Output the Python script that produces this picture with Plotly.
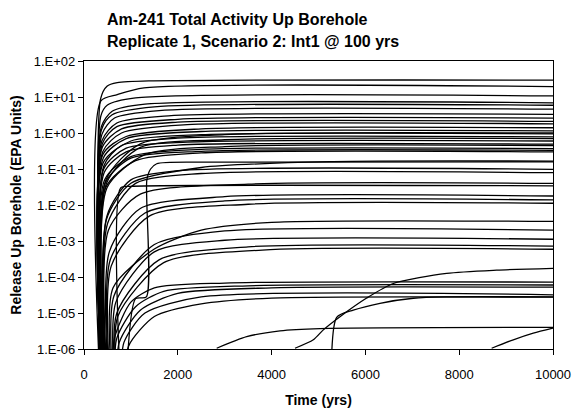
import plotly.graph_objects as go

# Release up borehole (EPA units) vs time (yrs), one list per realization
# upper curves: start ~350 yrs with an almost vertical jump
high_t = [
    [340, 355, 490, 710, 1420, 10000],
    [340, 360, 710, 1280, 10000],
    [340, 360, 500, 1100, 10000],
    [350, 370, 600, 1300, 10000],
    [350, 370, 600, 1500, 10000],
    [360, 380, 650, 1600, 10000],
    [360, 380, 700, 1800, 10000],
    [370, 390, 700, 2000, 10000],
    [370, 390, 800, 2000, 10000],
    [380, 400, 800, 2200, 10000],
    [380, 400, 900, 2500, 10000],
    [390, 410, 900, 2500, 10000],
    [390, 410, 1000, 2500, 10000],
    [400, 420, 800, 2000, 10000],
    [400, 420, 900, 2200, 10000],
    [410, 430, 900, 2000, 10000],
    [420, 440, 1000, 2500, 10000],
    [430, 450, 1000, 2500, 10000],
    [440, 460, 1100, 2500, 10000],
    [450, 470, 1200, 3000, 10000],
    [460, 480, 1200, 3000, 10000],
    [470, 490, 1300, 3000, 10000],
]
high_v = [
    [1e-7, 9.0, 20.0, 25.0, 28.0, 29.5],
    [1e-7, 7.8, 11.7, 18.0, 19.5],
    [1e-7, 3.0, 6.0, 9.5, 10.7],
    [1e-7, 1.5, 4.0, 6.3, 6.9],
    [1e-7, 1.2, 3.2, 5.3, 5.9],
    [1e-7, 0.9, 2.6, 4.2, 4.6],
    [1e-7, 0.6, 1.9, 3.0, 3.3],
    [1e-7, 0.5, 1.5, 2.4, 2.6],
    [1e-7, 0.4, 1.3, 2.0, 2.1],
    [1e-7, 0.3, 1.0, 1.7, 1.8],
    [1e-7, 0.25, 0.8, 1.3, 1.4],
    [1e-7, 0.2, 0.7, 1.1, 1.15],
    [1e-7, 0.15, 0.6, 0.9, 0.95],
    [1e-7, 0.12, 0.45, 0.72, 0.78],
    [1e-7, 0.1, 0.38, 0.56, 0.6],
    [1e-7, 0.08, 0.3, 0.46, 0.49],
    [1e-7, 0.05, 0.22, 0.35, 0.37],
    [1e-7, 0.04, 0.2, 0.31, 0.33],
    [1e-7, 0.03, 0.17, 0.28, 0.30],
    [1e-7, 0.05, 0.5, 0.9, 1.0],
    [1e-7, 0.04, 0.4, 0.65, 0.7],
    [1e-7, 0.03, 0.25, 0.42, 0.45],
]

# middle curves
mid_t = [
    [900, 1100, 1330, 1340, 1420, 1550, 2500, 10000],
    [450, 480, 1000, 2500, 5300, 10000],
    [470, 490, 1000, 2000, 10000],
    [480, 500, 1100, 2500, 10000],
    [500, 520, 1200, 3500, 10000],
    [775, 782, 1000, 10000],
    [520, 540, 1200, 3000, 10000],
    [540, 560, 1300, 3000, 10000],
    [560, 580, 1400, 3500, 10000],
    [600, 620, 1500, 2500, 4000, 10000],
    [620, 640, 1500, 3000, 10000],
    [650, 680, 1500, 3000, 10000],
    [680, 700, 1600, 3500, 10000],
    [700, 720, 1700, 3800, 10000],
]
mid_v = [
    [1e-7, 2.5e-5, 2.8e-5, 0.05, 0.1, 0.14, 0.155, 0.158],
    [1e-7, 0.004, 0.04, 0.11, 0.16, 0.166],
    [1e-7, 0.005, 0.05, 0.09, 0.098],
    [1e-7, 0.003, 0.04, 0.075, 0.079],
    [1e-7, 0.002, 0.02, 0.038, 0.04],
    [1e-7, 0.03, 0.033, 0.034],
    [1e-7, 5e-4, 0.008, 0.017, 0.0178],
    [1e-7, 3e-4, 0.006, 0.013, 0.0138],
    [1e-7, 2e-4, 0.005, 0.0105, 0.0112],
    [1e-7, 5e-5, 6e-4, 2e-3, 3.3e-3, 3.5e-3],
    [1e-7, 3e-5, 8e-4, 1.9e-3, 2.0e-3],
    [1e-7, 2e-5, 5e-4, 1.05e-3, 1.12e-3],
    [1e-7, 1e-5, 3e-4, 6.9e-4, 7.2e-4],
    [1e-7, 8e-6, 2.5e-4, 5.6e-4, 5.9e-4],
]

# low curves
low_t = [
    [600, 650, 1000, 1500, 3000, 10000],
    [650, 700, 1100, 1700, 3500, 10000],
    [700, 750, 1200, 2000, 4000, 10000],
    [800, 850, 1300, 2500, 10000],
    [890, 950, 1500, 2500, 4000, 10000],
]
low_v = [
    [1e-7, 2e-6, 2e-5, 5e-5, 6.8e-5, 7.2e-5],
    [1e-7, 2e-6, 1.5e-5, 4e-5, 5.7e-5, 6e-5],
    [1e-7, 1.5e-6, 1.2e-5, 3.5e-5, 5e-5, 5.2e-5],
    [1e-7, 1.5e-6, 1e-5, 2.8e-5, 3.2e-5],
    [1e-7, 1.2e-6, 8e-6, 1.8e-5, 2.6e-5, 2.75e-5],
]

# late arrivals
late_t = [
    [2829, 3469, 4179, 5032, 10000],
    [4499, 4890, 5103, 5458, 6027, 6595, 7733, 8799, 10000],
    [5270, 5388, 5742, 6311, 7022, 7733, 10000],
    [8692, 9154, 9580, 10000],
]
late_v = [
    [1.05e-6, 2.2e-6, 3.2e-6, 3.7e-6, 4.0e-6],
    [1.05e-6, 1.8e-6, 3.4e-6, 7.9e-6, 2.6e-5, 6.6e-5, 1.26e-4, 1.55e-4, 1.74e-4],
    [1e-7, 7.6e-6, 1.2e-5, 1.86e-5, 2.57e-5, 2.8e-5, 2.8e-5],
    [1.05e-6, 1.8e-6, 2.75e-6, 3.8e-6],
]

title_lines = ["Am-241 Total Activity Up Borehole",
               "Replicate 1, Scenario 2: Int1 @ 100 yrs"]
y_ticks = [1e-6, 1e-5, 1e-4, 1e-3, 1e-2, 1e-1, 1e0, 1e1, 1e2]
y_labels = ["1.E-06", "1.E-05", "1.E-04", "1.E-03", "1.E-02",
            "1.E-01", "1.E+00", "1.E+01", "1.E+02"]
x_ticks = [0, 2000, 4000, 6000, 8000, 10000]
x_labels = ["0", "2000", "4000", "6000", "8000", "10000"]

fig = go.Figure()
for ts, vs in zip(high_t + mid_t + low_t + late_t, high_v + mid_v + low_v + late_v):
    fig.add_trace(go.Scatter(
        x=ts, y=vs, mode="lines",
        line=dict(color="black", width=1.3, shape="spline", smoothing=0.7),
        hoverinfo="skip", showlegend=False
    ))

# two title lines, left aligned above the plot
for i, txt in enumerate(title_lines):
    fig.add_annotation(
        text="<b>" + txt + "</b>", xref="paper", yref="paper",
        x=(105 - 84) / 469, y=(349 - 20 - 21.5 * i) / 288,
        xanchor="left", yanchor="middle", showarrow=False,
        font=dict(size=16, color="black"),
    )

fig.update_layout(
    width=575, height=412,
    margin=dict(l=84, r=22, t=61, b=63),
    paper_bgcolor="white", plot_bgcolor="white",
    font=dict(family="Liberation Sans, Arial, sans-serif", color="black", size=13),
    xaxis=dict(
        range=[0, 10000], tickvals=x_ticks, ticktext=x_labels,
        showline=True, linecolor="black", linewidth=1.2, mirror=True,
        ticks="outside", ticklen=5, tickcolor="black", ticklabelstandoff=8,
        showgrid=False, zeroline=False, automargin=False,
        title=dict(text="<b>Time (yrs)</b>", font=dict(size=14), standoff=14),
    ),
    yaxis=dict(
        type="log", range=[-6, 2], tickvals=y_ticks, ticktext=y_labels,
        showline=True, linecolor="black", linewidth=1.2, mirror=True,
        ticks="outside", ticklen=5, tickcolor="black",
        showgrid=False, zeroline=False, automargin=False,
        title=dict(text="<b>Release Up Borehole (EPA Units)</b>", font=dict(size=14), standoff=8),
    ),
)

fig.write_html("out.html", config={"displayModeBar": False},
               post_script="document.body.style.margin='0';")
